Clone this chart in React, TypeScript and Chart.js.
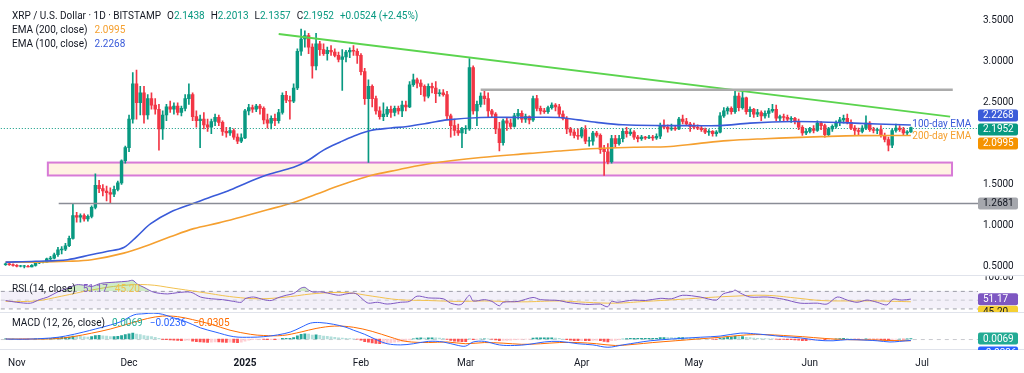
import React, { useEffect, useRef } from 'react';
import { Chart, registerables } from 'chart.js';

Chart.register(...registerables);

// ---------- DATA ----------
// Day offsets are counted from 1 Nov 2024 (day 0). First candle = 29 Oct 2024.
const FIRST_DAY = -3;
const MONTH_TICKS = [0, 30, 61, 92, 120, 151, 181, 212, 242];
const MONTH_LABELS = ['Nov', 'Dec', '2025', 'Feb', 'Mar', 'Apr', 'May', 'Jun', 'Jul'];
const PRICE_TICKS = [0.5, 1.0, 1.5, 2.0, 2.5, 3.0, 3.5];

// [open, high, low, close] daily candles, 29 Oct 2024 .. 28 Jun 2025
const OHLC = [
  // Oct
  [0.52,0.54,0.51,0.53],[0.53,0.54,0.51,0.52],[0.52,0.53,0.50,0.51],
  // Nov
  [0.51,0.52,0.49,0.50],[0.50,0.51,0.49,0.50],[0.50,0.51,0.48,0.50],[0.50,0.51,0.49,0.49],[0.49,0.52,0.49,0.51],
  [0.51,0.55,0.50,0.54],[0.54,0.56,0.53,0.55],[0.55,0.56,0.54,0.55],[0.55,0.60,0.55,0.59],[0.59,0.62,0.57,0.60],
  [0.60,0.66,0.59,0.64],[0.64,0.73,0.62,0.70],[0.70,0.74,0.65,0.71],[0.71,0.78,0.69,0.75],[0.75,0.87,0.74,0.84],
  [0.84,1.27,0.83,1.12],[1.12,1.16,1.04,1.10],[1.10,1.14,1.04,1.12],[1.12,1.14,1.05,1.08],[1.08,1.13,1.05,1.11],
  [1.11,1.24,1.09,1.22],[1.22,1.63,1.20,1.49],[1.49,1.55,1.40,1.45],[1.45,1.50,1.36,1.42],[1.42,1.48,1.30,1.40],
  [1.40,1.46,1.27,1.38],[1.38,1.48,1.35,1.44],[1.44,1.54,1.42,1.52],[1.52,1.80,1.50,1.79],[1.79,1.97,1.76,1.95],
  // Dec
  [1.95,2.35,1.90,2.30],[2.30,2.87,2.25,2.73],[2.73,2.90,2.30,2.50],[2.50,2.70,2.35,2.62],[2.62,2.70,2.25,2.35],
  [2.35,2.60,2.30,2.55],[2.55,2.62,2.42,2.47],[2.47,2.55,2.36,2.42],[2.42,2.48,1.92,2.18],[2.18,2.40,2.05,2.35],
  [2.35,2.48,2.28,2.45],[2.45,2.52,2.38,2.42],[2.42,2.50,2.36,2.46],[2.46,2.50,2.35,2.38],[2.38,2.46,2.34,2.43],
  [2.43,2.60,2.40,2.55],[2.55,2.73,2.48,2.60],[2.60,2.62,2.28,2.33],[2.33,2.40,2.20,2.28],[2.28,2.35,1.95,2.30],
  [2.30,2.38,2.18,2.23],[2.23,2.30,2.15,2.20],[2.20,2.30,2.12,2.27],[2.27,2.36,2.22,2.32],[2.32,2.35,2.22,2.26],
  [2.26,2.28,2.10,2.15],[2.15,2.20,2.08,2.13],[2.13,2.20,2.10,2.16],[2.16,2.18,2.05,2.08],[2.08,2.12,2.00,2.03],
  [2.03,2.12,2.01,2.07],
  // Jan
  [2.07,2.42,2.06,2.40],[2.40,2.48,2.35,2.44],[2.44,2.47,2.38,2.42],[2.42,2.48,2.39,2.46],[2.46,2.48,2.36,2.43],
  [2.43,2.45,2.24,2.29],[2.29,2.36,2.19,2.25],[2.25,2.34,2.18,2.31],[2.31,2.36,2.22,2.28],[2.28,2.42,2.25,2.38],
  [2.38,2.62,2.36,2.59],[2.59,2.64,2.50,2.53],[2.53,2.58,2.30,2.52],[2.52,2.73,2.50,2.68],[2.68,3.16,2.66,3.13],
  [3.13,3.40,3.08,3.28],[3.28,3.38,3.18,3.32],[3.32,3.35,3.10,3.18],[3.18,3.22,2.80,2.95],[2.95,3.35,2.90,3.22],
  [3.22,3.25,3.08,3.15],[3.15,3.22,3.08,3.10],[3.10,3.18,3.02,3.14],[3.14,3.20,3.08,3.12],[3.12,3.16,3.06,3.08],
  [3.08,3.12,3.00,3.03],[3.03,3.15,2.65,3.06],[3.06,3.14,3.00,3.12],[3.12,3.17,3.05,3.14],[3.14,3.20,3.08,3.13],
  [3.13,3.16,2.98,3.08],
  // Feb
  [3.08,3.10,2.84,2.88],[2.88,2.92,2.48,2.55],[2.55,2.78,1.77,2.70],[2.70,2.72,2.45,2.55],[2.55,2.58,2.36,2.40],
  [2.40,2.45,2.30,2.33],[2.33,2.50,2.28,2.36],[2.36,2.45,2.33,2.42],[2.42,2.46,2.32,2.38],[2.38,2.46,2.34,2.43],
  [2.43,2.46,2.36,2.40],[2.40,2.52,2.33,2.47],[2.47,2.52,2.40,2.45],[2.45,2.76,2.44,2.72],[2.72,2.85,2.70,2.78],
  [2.78,2.80,2.68,2.74],[2.74,2.78,2.60,2.70],[2.70,2.72,2.52,2.58],[2.58,2.73,2.56,2.70],[2.70,2.74,2.62,2.68],
  [2.68,2.76,2.50,2.61],[2.61,2.66,2.58,2.62],[2.62,2.66,2.58,2.60],[2.60,2.64,2.30,2.34],[2.34,2.36,2.08,2.22],
  [2.22,2.30,2.10,2.16],[2.16,2.24,2.10,2.13],[2.13,2.20,1.95,2.18],
  // Mar
  [2.18,2.22,2.12,2.18],[2.18,3.04,2.16,2.93],[2.93,2.95,2.36,2.40],[2.40,2.52,2.22,2.48],[2.48,2.62,2.45,2.58],
  [2.58,2.66,2.48,2.55],[2.55,2.62,2.32,2.40],[2.40,2.42,2.32,2.36],[2.36,2.38,2.12,2.18],[2.18,2.26,1.91,2.01],
  [2.01,2.30,1.98,2.28],[2.28,2.32,2.16,2.25],[2.25,2.30,2.18,2.21],[2.21,2.37,2.20,2.34],[2.34,2.42,2.30,2.37],
  [2.37,2.40,2.26,2.30],[2.30,2.36,2.26,2.33],[2.33,2.34,2.24,2.29],[2.29,2.58,2.27,2.55],[2.55,2.59,2.40,2.43],
  [2.43,2.46,2.36,2.40],[2.40,2.43,2.37,2.39],[2.39,2.46,2.37,2.44],[2.44,2.50,2.42,2.47],[2.47,2.49,2.40,2.45],
  [2.45,2.48,2.33,2.36],[2.36,2.40,2.29,2.31],[2.31,2.33,2.12,2.18],[2.18,2.20,2.10,2.14],[2.14,2.17,2.07,2.10],
  [2.10,2.18,2.05,2.09],
  // Apr
  [2.09,2.20,2.07,2.17],[2.17,2.22,2.00,2.03],[2.03,2.08,1.97,2.03],[2.03,2.15,1.98,2.13],[2.13,2.15,2.08,2.10],
  [2.10,2.12,1.88,1.93],[1.93,1.98,1.61,1.90],[1.90,2.00,1.75,1.78],[1.78,2.10,1.76,2.06],[2.06,2.10,1.96,2.00],
  [2.00,2.10,1.98,2.06],[2.06,2.18,2.02,2.15],[2.15,2.20,2.08,2.12],[2.12,2.18,2.10,2.14],[2.14,2.16,2.05,2.08],
  [2.08,2.10,2.02,2.06],[2.06,2.10,2.04,2.08],[2.08,2.09,2.05,2.07],[2.07,2.10,2.06,2.08],[2.08,2.10,2.04,2.07],
  [2.07,2.12,2.05,2.09],[2.09,2.25,2.06,2.22],[2.22,2.29,2.18,2.20],[2.20,2.23,2.14,2.18],[2.18,2.24,2.16,2.19],
  [2.19,2.22,2.16,2.18],[2.18,2.32,2.17,2.30],[2.30,2.35,2.24,2.27],[2.27,2.31,2.22,2.24],[2.24,2.26,2.15,2.21],
  // May
  [2.21,2.25,2.18,2.20],[2.20,2.23,2.17,2.19],[2.19,2.21,2.15,2.17],[2.17,2.19,2.12,2.14],[2.14,2.17,2.10,2.15],
  [2.15,2.16,2.09,2.12],[2.12,2.16,2.09,2.14],[2.14,2.38,2.13,2.34],[2.34,2.44,2.32,2.40],[2.40,2.45,2.36,2.43],
  [2.43,2.45,2.36,2.39],[2.39,2.66,2.37,2.58],[2.58,2.62,2.40,2.44],[2.44,2.63,2.42,2.56],[2.56,2.57,2.36,2.39],
  [2.39,2.45,2.33,2.42],[2.42,2.43,2.32,2.36],[2.36,2.42,2.33,2.38],[2.38,2.40,2.28,2.34],[2.34,2.40,2.31,2.37],
  [2.37,2.43,2.32,2.40],[2.40,2.48,2.38,2.42],[2.42,2.47,2.28,2.31],[2.31,2.35,2.28,2.33],[2.33,2.36,2.27,2.32],
  [2.32,2.35,2.28,2.30],[2.30,2.33,2.26,2.31],[2.31,2.32,2.24,2.27],[2.27,2.30,2.17,2.20],[2.20,2.22,2.10,2.13],
  [2.13,2.18,2.11,2.15],
  // Jun
  [2.15,2.20,2.13,2.18],[2.18,2.22,2.13,2.16],[2.16,2.28,2.15,2.25],[2.25,2.27,2.17,2.22],[2.22,2.24,2.08,2.11],
  [2.11,2.20,2.09,2.18],[2.18,2.23,2.15,2.21],[2.21,2.28,2.19,2.26],[2.26,2.32,2.22,2.29],[2.29,2.35,2.25,2.31],
  [2.31,2.36,2.24,2.26],[2.26,2.29,2.17,2.19],[2.19,2.22,2.11,2.16],[2.16,2.19,2.11,2.15],[2.15,2.22,2.13,2.19],
  [2.19,2.34,2.17,2.25],[2.25,2.27,2.15,2.17],[2.17,2.20,2.13,2.16],[2.16,2.19,2.12,2.17],[2.17,2.22,2.08,2.10],
  [2.10,2.13,2.02,2.05],[2.05,2.08,1.91,1.98],[1.98,2.18,1.95,2.16],[2.16,2.24,2.14,2.19],[2.19,2.22,2.15,2.17],
  [2.17,2.20,2.11,2.13],[2.13,2.16,2.10,2.1428],[2.1438,2.2013,2.1357,2.1952],
];

// EMA lines read at sample days: [day, value]
const EMA100 = [[-3,0.55],[5,0.56],[13.6,0.58],[19.8,0.64],[24,0.68],[28.6,0.73],[32,0.86],[35.8,1.02],[41,1.16],
  [47.3,1.27],[52,1.35],[56.4,1.42],[62,1.53],[67,1.62],[74,1.71],[77.7,1.79],[82,1.92],[86.5,2.02],[90,2.09],
  [94.6,2.16],[100,2.19],[104.4,2.21],[110,2.25],[115,2.29],[124,2.32],[135,2.32],[145,2.32],[150,2.29],[155,2.26],
  [162,2.23],[172.8,2.22],[180.8,2.22],[188,2.22],[196,2.25],[207.5,2.27],[215,2.265],[220.9,2.256],[230,2.24],[239,2.2268]];
const EMA200 = [[-3,0.55],[5,0.55],[13.6,0.56],[20,0.58],[28.6,0.66],[35.8,0.77],[41,0.86],[47.3,0.96],[54,1.03],
  [59.8,1.10],[67,1.19],[74,1.28],[80,1.38],[86.5,1.49],[94.6,1.61],[102,1.68],[110.6,1.756],[124,1.83],[137,1.88],
  [145,1.91],[155,1.94],[165,1.955],[174.7,1.965],[182,2.0],[190,2.036],[200,2.06],[207.5,2.073],[215,2.085],
  [225,2.097],[239,2.0995]];

const RSI = [[-3,48],[0,44],[3.7,42],[6,50],[8.3,56],[11,68],[13.6,76],[16,84],[17.9,83],[20,80],[22.4,87],[26.4,90],
  [29.6,92],[31,94],[32.3,85],[34,78],[36.6,67],[40.3,63],[43,66],[46.5,67],[49.1,56],[52,52],[55,50],[58,46],[60,44],
  [61,52],[63.3,56],[66,50],[68,48],[69.7,54],[72,60],[74,64],[75.9,76],[77,78],[78,72],[79.3,67],[81,68],[83.1,65],
  [86,60],[88,63],[90,65],[91,62],[92.7,49],[94,42],[96.4,44],[99,40],[102.6,44],[105,46],[107,58],[110,54],[114,52],
  [116,42],[118,38],[119,40],[121,60],[122,47],[125,50],[127,46],[129,36],[130,44],[134,46],[138,55],[140,50],[145,48],
  [147,44],[151,40],[153,39],[156,40],[157,36],[158,34],[159,46],[160.5,44],[164.8,49],[168,48],[172,53],[175,52],
  [178,60],[182.7,56],[187,49],[188.8,63],[191.5,69],[192,72],[193.4,65],[196,56],[200.6,56],[204.9,51],[209.4,42],
  [214,42],[216.6,40],[219.3,56],[222,49],[224.6,44],[227.3,49],[230,44],[232.6,38],[234.2,51],[236.6,49],[239,51.17]];
const RSI_MA = [[-3,46],[5,47],[12,58],[20,72],[28,82],[35,84],[42,76],[50,66],[58,56],[65,52],[72,56],[80,64],[88,66],
  [95,58],[102,50],[110,48],[118,46],[125,47],[135,45],[145,47],[152,44],[160,42],[168,46],[176,50],[185,55],[192,58],
  [200,60],[208,54],[215,48],[222,47],[230,47],[239,45.2]];

const MACD = [[-3,0],[2,-0.003],[9,0.017],[13,0.05],[17.9,0.12],[21,0.17],[25.1,0.24],[28,0.30],[31.3,0.41],[34,0.43],
  [36.6,0.44],[39,0.42],[41.9,0.36],[45,0.30],[49.1,0.19],[53,0.12],[58,0.04],[62.5,0.03],[66,0.04],[69.7,0.07],
  [73.2,0.12],[76,0.20],[78.5,0.27],[81,0.28],[84.7,0.25],[88,0.20],[90,0.15],[93,0.08],[96.4,-0.02],[99,-0.08],
  [102.6,-0.10],[106,-0.08],[110,-0.04],[114,-0.05],[118,-0.11],[120,-0.12],[122,-0.05],[125,-0.04],[129,-0.10],
  [133,-0.11],[137,-0.09],[141,-0.05],[145,-0.04],[150,-0.08],[154,-0.10],[158,-0.14],[162,-0.10],[166,-0.06],
  [169.3,-0.03],[175,0.0],[182.7,0.03],[188,0.05],[193.4,0.10],[197,0.09],[200.6,0.07],[205,0.04],[209.4,0.02],
  [214,-0.02],[218.2,-0.03],[222,-0.01],[227.3,-0.02],[230,-0.03],[233.4,-0.05],[236,-0.04],[239,-0.0236]];
const SIGNAL = [[-3,0],[5,0.0],[10,0.005],[15,0.04],[20,0.10],[25,0.17],[31,0.28],[35,0.35],[39,0.39],[43,0.38],
  [47,0.33],[52,0.25],[57,0.15],[62.5,0.08],[66,0.06],[71,0.06],[76,0.12],[80,0.18],[85,0.22],[90,0.20],[95,0.13],
  [100,0.03],[104,-0.04],[110,-0.06],[115,-0.05],[120,-0.08],[125,-0.06],[130,-0.07],[135,-0.09],[140,-0.08],
  [145,-0.06],[150,-0.06],[155,-0.08],[160,-0.11],[165,-0.09],[170,-0.06],[176,-0.03],[182,0.0],[188,0.03],
  [195,0.07],[200,0.075],[205,0.06],[210,0.04],[216,0.01],[222,-0.01],[228,-0.015],[233,-0.025],[239,-0.0305]];
// daily MACD histogram, same days as OHLC
const HIST = [
  0.002,0.001,0.001,
  0.000,-0.002,-0.003,-0.004,-0.002,0.003,0.005,0.006,0.010,
  0.014,0.018,0.025,0.028,0.030,0.035,0.050,0.048,
  0.044,0.038,0.034,0.040,0.060,0.062,0.055,0.048,
  0.040,0.040,0.044,0.060,0.075,
  0.090,0.100,0.085,0.075,0.060,0.052,0.042,
  0.030,0.010,-0.005,-0.010,-0.015,-0.020,-0.025,-0.028,
  -0.025,-0.020,-0.035,-0.045,-0.050,-0.055,-0.058,-0.055,
  -0.050,-0.050,-0.055,-0.058,-0.055,-0.058,-0.060,-0.055,
  -0.035,-0.020,-0.012,-0.005,-0.002,-0.008,-0.012,-0.010,
  -0.010,-0.004,0.010,0.012,0.012,0.025,0.055,0.080,
  0.090,0.085,0.065,0.070,0.062,0.052,0.045,0.038,
  0.030,0.022,0.015,0.010,0.006,0.004,-0.002,
  -0.020,-0.045,-0.055,-0.065,-0.075,-0.080,-0.078,-0.070,
  -0.062,-0.055,-0.050,-0.040,-0.035,-0.015,0.005,0.015,
  0.020,0.018,0.022,0.022,0.020,0.018,0.012,-0.008,
  -0.025,-0.035,-0.042,-0.045,
  -0.045,0.000,-0.010,-0.008,0.000,0.004,0.002,-0.004,
  -0.015,-0.030,-0.025,-0.022,-0.020,-0.012,-0.006,-0.005,
  -0.003,-0.002,0.015,0.020,0.020,0.020,0.022,0.022,
  0.018,0.010,0.000,-0.012,-0.020,-0.026,-0.030,-0.026,
  -0.030,-0.030,-0.022,-0.018,-0.030,-0.040,-0.048,-0.030,
  -0.022,-0.012,0.000,0.006,0.010,0.010,0.010,0.012,
  0.012,0.012,0.012,0.014,0.024,0.026,0.025,0.024,
  0.022,0.024,0.025,0.022,0.018,0.014,0.010,0.006,
  0.002,0.000,-0.004,-0.005,0.010,0.022,0.030,0.032,
  0.045,0.040,0.042,0.030,0.025,0.018,0.014,0.008,
  0.006,0.005,0.004,-0.004,-0.006,-0.008,-0.010,-0.010,
  -0.014,-0.020,-0.026,-0.026,-0.022,-0.020,-0.012,-0.008,
  -0.014,-0.010,-0.005,0.002,0.008,0.012,0.010,0.002,
  -0.004,-0.006,-0.004,0.002,-0.002,-0.004,-0.004,-0.010,
  -0.016,-0.024,-0.012,-0.004,0.000,-0.002,0.002,0.0069,
];

// Drawings
const TREND_DAYS = [70, 249.5];
const TREND_PRICES = [3.34, 2.33];
const RESIST_DAYS = [124, 250.2];
const RESIST_PRICE = 2.659;
const ZONE_DAYS = [8.3, 250];
const ZONE_PRICES = [1.61, 1.768];
const LEVEL_START_DAY = 11.2;
const LEVEL_PRICE = 1.2681;

// ---------- STYLE ----------
const FONT = 'Roboto, "Liberation Sans", Arial, sans-serif';
const TEXT = '#131722';
const UP = '#089981';
const DOWN = '#f23645';
const BLUE = '#3a5bd9';
const ORANGE = '#f5a030';
const PURPLE = '#7e57c2';
const YELLOW = '#f2c14e';
const MACD_BLUE = '#2962ff';
const MACD_ORANGE = '#ff6d00';
const SEP = '#e0e3eb';

const X_MIN = -16 / 3.744;
const X_MAX = (978 - 16) / 3.744;

const last = (a: number[][]) => a[a.length - 1][1];
const pts = (a: number[][]) => a.map(([x, y]) => ({ x, y }));

function spread(ys: number[], gap: number, center: boolean) {
  const p = ys.slice();
  for (let i = 1; i < p.length; i++) p[i] = Math.max(p[i], p[i - 1] + gap);
  if (center) {
    const m0 = ys.reduce((s, v) => s + v, 0) / ys.length;
    const m1 = p.reduce((s, v) => s + v, 0) / p.length;
    return p.map((v) => v + (m0 - m1));
  }
  return p;
}

function drawTag(ctx: any, left: number, yc: number, text: string, bg: string, fg: string) {
  ctx.fillStyle = bg;
  ctx.beginPath();
  if (ctx.roundRect) ctx.roundRect(left, yc - 6, 40, 12, 2);
  else ctx.rect(left, yc - 6, 40, 12);
  ctx.fill();
  ctx.fillStyle = fg;
  ctx.font = `10px ${FONT}`;
  ctx.textAlign = 'left';
  ctx.textBaseline = 'middle';
  ctx.fillText(text, left + 5, yc + 0.5);
}

const overlay = {
  id: 'overlay',
  beforeDatasetsDraw(chart: any) {
    const { ctx, chartArea: ca, scales } = chart;
    const sx = scales.x, sy = scales.y, sr = scales.yRsi, sm = scales.yMacd;
    ctx.save();
    // RSI band
    const y70 = sr.getPixelForValue(70), y30 = sr.getPixelForValue(30), y50 = sr.getPixelForValue(50);
    ctx.fillStyle = 'rgba(126,87,194,0.09)';
    ctx.fillRect(ca.left, y70, ca.right - ca.left, y30 - y70);
    ctx.lineWidth = 1;
    ctx.setLineDash([4, 4]);
    ctx.strokeStyle = 'rgba(120,123,134,0.7)';
    [y70, y30].forEach((yy) => { ctx.beginPath(); ctx.moveTo(ca.left, yy + 0.5); ctx.lineTo(ca.right, yy + 0.5); ctx.stroke(); });
    ctx.strokeStyle = 'rgba(120,123,134,0.35)';
    ctx.beginPath(); ctx.moveTo(ca.left, y50 + 0.5); ctx.lineTo(ca.right, y50 + 0.5); ctx.stroke();
    // MACD zero line
    const y0 = sm.getPixelForValue(0);
    ctx.strokeStyle = 'rgba(120,123,134,0.4)';
    ctx.beginPath(); ctx.moveTo(ca.left, y0 + 0.5); ctx.lineTo(ca.right, y0 + 0.5); ctx.stroke();
    ctx.setLineDash([]);
    // support zone
    const zx0 = sx.getPixelForValue(ZONE_DAYS[0]), zx1 = sx.getPixelForValue(ZONE_DAYS[1]);
    const zy0 = sy.getPixelForValue(ZONE_PRICES[1]), zy1 = sy.getPixelForValue(ZONE_PRICES[0]);
    ctx.fillStyle = 'rgba(255,226,190,0.45)';
    ctx.fillRect(zx0, zy0, zx1 - zx0, zy1 - zy0);
    ctx.strokeStyle = '#d77ad7';
    ctx.lineWidth = 2;
    ctx.strokeRect(zx0, zy0, zx1 - zx0, zy1 - zy0);
    // current price dotted line
    const yc = sy.getPixelForValue(OHLC[OHLC.length - 1][3]);
    ctx.strokeStyle = UP;
    ctx.lineWidth = 1;
    ctx.setLineDash([1, 2]);
    ctx.beginPath(); ctx.moveTo(ca.left, Math.round(yc) + 0.5); ctx.lineTo(ca.right, Math.round(yc) + 0.5); ctx.stroke();
    ctx.setLineDash([]);
    ctx.restore();
  },
  afterDatasetsDraw(chart: any) {
    const { ctx, chartArea: ca, scales, width } = chart;
    const sx = scales.x, sy = scales.y, sr = scales.yRsi, sm = scales.yMacd;
    ctx.save();
    // trend line
    ctx.strokeStyle = '#5bd44e';
    ctx.lineWidth = 2;
    ctx.beginPath();
    ctx.moveTo(sx.getPixelForValue(TREND_DAYS[0]), sy.getPixelForValue(TREND_PRICES[0]));
    ctx.lineTo(sx.getPixelForValue(TREND_DAYS[1]), sy.getPixelForValue(TREND_PRICES[1]));
    ctx.stroke();
    // resistance line
    ctx.strokeStyle = '#ababab';
    ctx.lineWidth = 2.5;
    const ry = sy.getPixelForValue(RESIST_PRICE);
    ctx.beginPath();
    ctx.moveTo(sx.getPixelForValue(RESIST_DAYS[0]), ry);
    ctx.lineTo(sx.getPixelForValue(RESIST_DAYS[1]), ry);
    ctx.stroke();
    // 1.2681 level
    const ly = sy.getPixelForValue(LEVEL_PRICE);
    ctx.strokeStyle = '#8a8d96';
    ctx.lineWidth = 1.5;
    ctx.beginPath();
    ctx.moveTo(sx.getPixelForValue(LEVEL_START_DAY), ly);
    ctx.lineTo(ca.right, ly);
    ctx.stroke();

    // EMA labels
    const lastDay = FIRST_DAY + OHLC.length - 1;
    const lx = sx.getPixelForValue(lastDay) + 1.5;
    ctx.font = `10px ${FONT}`;
    ctx.textAlign = 'left';
    ctx.textBaseline = 'middle';
    ctx.fillStyle = BLUE;
    ctx.fillText('100-day EMA', lx, sy.getPixelForValue(last(EMA100)) - 0.5);
    ctx.fillStyle = ORANGE;
    ctx.fillText('200-day EMA', lx, sy.getPixelForValue(last(EMA200)) + 1.5);

    // legends
    const lastC = OHLC[OHLC.length - 1];
    const prevC = OHLC[OHLC.length - 2][3];
    const chg = lastC[3] - prevC;
    ctx.font = `10px ${FONT}`;
    ctx.textBaseline = 'middle';
    let xx = 12;
    const seg = (t: string, c: string, gap = 0) => { ctx.fillStyle = c; ctx.fillText(t, xx, 16); xx += ctx.measureText(t).width + gap; };
    seg('XRP / U.S. Dollar · 1D · BITSTAMP', TEXT, 6);
    const names = ['O', 'H', 'L', 'C'];
    const vals = [lastC[0], lastC[1], lastC[2], lastC[3]];
    names.forEach((n, i) => { seg(n, TEXT); seg(vals[i].toFixed(4), UP, 6); });
    seg(`+${chg.toFixed(4)} (+${(chg / prevC * 100).toFixed(2)}%)`, UP);

    const line = (y: number, parts: [string, string][]) => {
      let x = 12;
      parts.forEach(([t, c]) => { ctx.fillStyle = c; ctx.fillText(t, x, y); x += ctx.measureText(t).width + 7; });
    };
    line(30.5, [['EMA (200, close)', TEXT], [last(EMA200).toFixed(4), ORANGE]]);
    line(44, [['EMA (100, close)', TEXT], [last(EMA100).toFixed(4), BLUE]]);
    line(sr.top + 14, [['RSI (14, close)', TEXT], [last(RSI).toFixed(2), PURPLE], [last(RSI_MA).toFixed(2), YELLOW]]);
    line(sm.top + 11, [['MACD (12, 26, close)', TEXT], [HIST[HIST.length - 1].toFixed(4), '#22ab94'],
      [last(MACD).toFixed(4).replace('-', '−'), MACD_BLUE], [last(SIGNAL).toFixed(4).replace('-', '−'), MACD_ORANGE]]);

    // pane separators
    ctx.strokeStyle = SEP;
    ctx.lineWidth = 1;
    [sr.top, sm.top, sm.bottom].forEach((yy: number) => {
      ctx.beginPath(); ctx.moveTo(0, Math.round(yy) + 0.5); ctx.lineTo(width, Math.round(yy) + 0.5); ctx.stroke();
    });

    // price tags
    const tagLeft = ca.right;
    const main = [
      { v: last(EMA100), bg: BLUE, fg: '#fff' },
      { v: lastC[3], bg: UP, fg: '#fff' },
      { v: last(EMA200), bg: '#f59300', fg: '#fff' },
    ].map((t) => ({ ...t, y: sy.getPixelForValue(t.v) })).sort((a, b) => a.y - b.y);
    const mp = spread(main.map((t) => t.y), 14, true);
    main.forEach((t, i) => drawTag(ctx, tagLeft, mp[i], t.v.toFixed(4), t.bg, t.fg));
    drawTag(ctx, tagLeft, ly, LEVEL_PRICE.toFixed(4), '#a5a7ad', TEXT);

    // RSI pane tags (clipped)
    ctx.save();
    ctx.beginPath(); ctx.rect(tagLeft, sr.top + 1, width - tagLeft, sr.bottom - sr.top - 1); ctx.clip();
    ctx.fillStyle = TEXT; ctx.font = `10px ${FONT}`; ctx.textBaseline = 'middle';
    ctx.fillText('100.00', tagLeft + 5, sr.getPixelForValue(100));
    const rp = spread([sr.getPixelForValue(last(RSI)), sr.getPixelForValue(last(RSI_MA))], 12.5, false);
    drawTag(ctx, tagLeft, rp[0], last(RSI).toFixed(2), PURPLE, '#fff');
    drawTag(ctx, tagLeft, rp[1], last(RSI_MA).toFixed(2), '#f5d033', TEXT);
    ctx.restore();

    // MACD pane tags (clipped)
    ctx.save();
    ctx.beginPath(); ctx.rect(tagLeft, sm.top + 1, width - tagLeft, sm.bottom - sm.top); ctx.clip();
    const hv = HIST[HIST.length - 1];
    const mpp = spread([sm.getPixelForValue(hv), sm.getPixelForValue(last(MACD))], 14, false);
    drawTag(ctx, tagLeft, mpp[0], hv.toFixed(4), '#22ab94', '#fff');
    drawTag(ctx, tagLeft, mpp[1], last(MACD).toFixed(4), MACD_BLUE, '#fff');
    ctx.restore();

    ctx.restore();
  },
};

export default function App() {
  const ref = useRef<HTMLCanvasElement>(null);
  useEffect(() => {
    document.body.style.margin = '0';
    const canvas = ref.current!;
    const days = OHLC.map((_, i) => FIRST_DAY + i);
    const wick = OHLC.map((r, i) => ({ x: days[i], y: [r[2], r[1]] }));
    const body = OHLC.map((r, i) => {
      const lo = Math.min(r[0], r[3]);
      const hi = Math.max(r[0], r[3]);
      return { x: days[i], y: [lo, hi - lo < 0.006 ? lo + 0.006 : hi] };
    });
    const colors = OHLC.map((r) => (r[3] >= r[0] ? UP : DOWN));
    const histColors = HIST.map((v, i) => {
      const p = i > 0 ? HIST[i - 1] : 0;
      if (v >= 0) return v >= p ? '#26a69a' : '#b2dfdb';
      return v <= p ? '#ff5252' : '#ffcdd2';
    });

    const chart = new Chart(canvas, {
      type: 'bar',
      data: {
        datasets: [
          { type: 'line', data: pts(EMA100), borderColor: BLUE, borderWidth: 1.6, pointRadius: 0, tension: 0.35, yAxisID: 'y', order: 1 },
          { type: 'line', data: pts(EMA200), borderColor: ORANGE, borderWidth: 1.6, pointRadius: 0, tension: 0.35, yAxisID: 'y', order: 1 },
          { type: 'bar', data: wick, backgroundColor: colors, barThickness: 1, grouped: false, yAxisID: 'y', order: 3 },
          { type: 'bar', data: body, backgroundColor: colors, barThickness: 2.8, grouped: false, yAxisID: 'y', order: 2 },
          {
            type: 'line', data: pts(RSI), borderColor: PURPLE, borderWidth: 1, pointRadius: 0, tension: 0.3, yAxisID: 'yRsi', order: 1,
            fill: { target: { value: 70 }, above: 'rgba(120,200,90,0.35)', below: 'rgba(0,0,0,0)' },
          },
          { type: 'line', data: pts(RSI_MA), borderColor: YELLOW, borderWidth: 1, pointRadius: 0, tension: 0.4, yAxisID: 'yRsi', order: 1 },
          { type: 'bar', data: HIST.map((v, i) => ({ x: days[i], y: v })), backgroundColor: histColors, barThickness: 2.2, grouped: false, yAxisID: 'yMacd', order: 2 },
          { type: 'line', data: pts(MACD), borderColor: MACD_BLUE, borderWidth: 1, pointRadius: 0, tension: 0.35, yAxisID: 'yMacd', order: 1 },
          { type: 'line', data: pts(SIGNAL), borderColor: MACD_ORANGE, borderWidth: 1, pointRadius: 0, tension: 0.35, yAxisID: 'yMacd', order: 1 },
        ] as any,
      },
      options: {
        responsive: false,
        animation: false,
        events: [],
        layout: { padding: { top: 10, left: 0, right: 0, bottom: 0 } },
        plugins: { legend: { display: false }, tooltip: { enabled: false } },
        scales: {
          x: {
            type: 'linear', position: 'bottom', min: X_MIN, max: X_MAX, offset: false,
            grid: { display: false, drawTicks: false }, border: { display: false },
            afterBuildTicks: (s: any) => { s.ticks = MONTH_TICKS.map((v) => ({ value: v })); },
            afterFit: (s: any) => { s.height = 24; },
            ticks: {
              autoSkip: false, maxRotation: 0, padding: 8, color: TEXT,
              font: (c: any) => ({ family: FONT, size: 10, weight: c.tick && c.tick.value === 61 ? 'bold' : 'normal' }),
              callback: (v: any) => { const i = MONTH_TICKS.indexOf(v); return i >= 0 ? MONTH_LABELS[i] : ''; },
            },
          },
          y: {
            type: 'linear', position: 'right', stack: 'panes', stackWeight: 265, min: 0.39, max: 3.622,
            grid: { display: false, drawTicks: false }, border: { display: false },
            afterBuildTicks: (s: any) => { s.ticks = PRICE_TICKS.map((v) => ({ value: v })); },
            afterFit: (s: any) => { s.width = 46; },
            ticks: { color: TEXT, padding: 5, font: { family: FONT, size: 10 }, callback: (v: any) => Number(v).toFixed(4) },
          },
          yRsi: {
            type: 'linear', position: 'right', stack: 'panes', stackWeight: 37, min: 21.6, max: 105.7,
            grid: { display: false, drawTicks: false }, border: { display: false },
            afterFit: (s: any) => { s.width = 46; },
            ticks: { display: false },
          },
          yMacd: {
            type: 'linear', position: 'right', stack: 'panes', stackWeight: 37, min: -0.1695, max: 0.4576,
            grid: { display: false, drawTicks: false }, border: { display: false },
            afterFit: (s: any) => { s.width = 46; },
            ticks: { display: false },
          },
        },
      } as any,
      plugins: [overlay],
    });
    return () => chart.destroy();
  }, []);
  return (
    <div style={{ width: 1024, height: 373, background: '#fff' }}>
      <canvas ref={ref} width={1024} height={373} style={{ display: 'block', width: 1024, height: 373 }} />
    </div>
  );
}
